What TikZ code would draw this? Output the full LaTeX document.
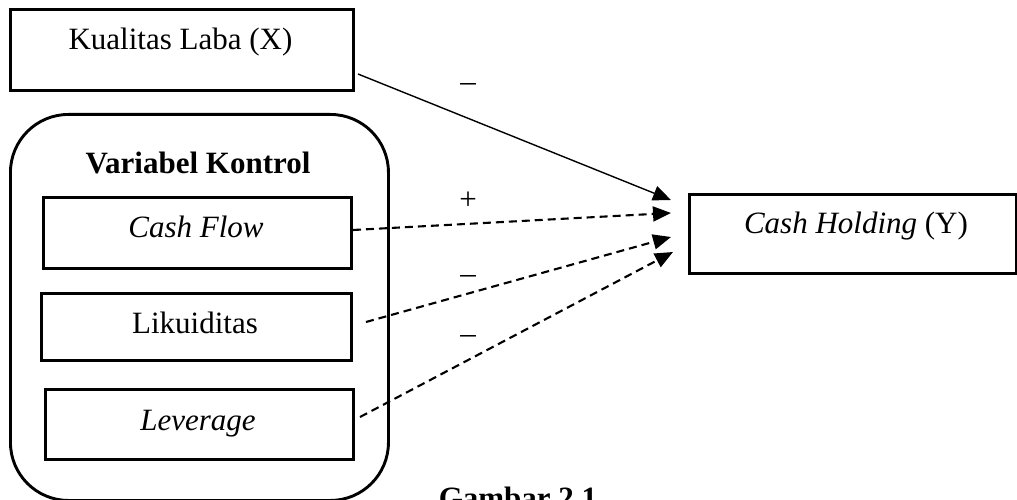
\documentclass[tikz,border=0pt]{standalone}
\usepackage{fontspec}
\setmainfont{Liberation Serif}
\usetikzlibrary{arrows.meta}
\begin{document}
\begin{tikzpicture}[x=1pt,y=-1pt,
  box/.style={draw, line width=2.9pt, inner sep=0pt, anchor=north west},
  lbl/.style={anchor=base, inner sep=0pt, font=\fontsize{31}{37}\selectfont},
  blbl/.style={anchor=base, inner sep=0pt, font=\fontsize{31}{37}\selectfont\bfseries},
  solidarrow/.style={line width=1.4pt, -{Triangle[length=18pt,width=15pt]}},
  dasharrow/.style={line width=2.1pt, dash pattern=on 8pt off 5pt, -{Triangle[length=18pt,width=15pt]}}]
\useasboundingbox (0,0) rectangle (1017,500);

% boxes
\node[box, minimum width=343pt, minimum height=81pt] (kl) at (9,8) {};
\node[lbl] (kltext) at (180.5,50) {Kualitas Laba (X)};

\node[box, rounded corners=58pt, minimum width=378pt, minimum height=386pt] (vk) at (9,113) {};
\node[blbl] (vktext) at (198,173) {Variabel Kontrol};

\node[box, minimum width=308pt, minimum height=71pt] (cf) at (42,196) {};
\node[lbl] (cftext) at (196,237) {\itshape Cash Flow};

\node[box, minimum width=310pt, minimum height=67pt] (lq) at (40,292) {};
\node[lbl] (lqtext) at (195,333) {Likuiditas};

\node[box, minimum width=308pt, minimum height=70pt] (lv) at (44,388) {};
\node[lbl] (lvtext) at (198,430) {\itshape Leverage};

\node[box, minimum width=327pt, minimum height=79pt] (ch) at (688,193) {};
\node[lbl] (chtext) at (856,233) {\textit{Cash Holding} (Y)};

\node[blbl] (cap) at (518,508) {Gambar 2.1};

% connector end points
\coordinate (s0) at (358,74);  \coordinate (t0) at (671,200);
\coordinate (s1) at (353,230); \coordinate (t1) at (671,213);
\coordinate (s2) at (366,322); \coordinate (t2) at (671,237);
\coordinate (s3) at (360,417); \coordinate (t3) at (673,252);

\draw[solidarrow] (s0) -- (t0);
\draw[dasharrow] (s1) -- (t1);
\draw[dasharrow] (s2) -- (t2);
\draw[dasharrow] (s3) -- (t3);

% signs
\node[lbl] (m0) at (468,92) {\textendash};
\node[lbl] (p1) at (468,209) {+};
\node[lbl] (m2) at (468,283) {\textendash};
\node[lbl] (m3) at (468,343) {\textendash};
\end{tikzpicture}
\end{document}
